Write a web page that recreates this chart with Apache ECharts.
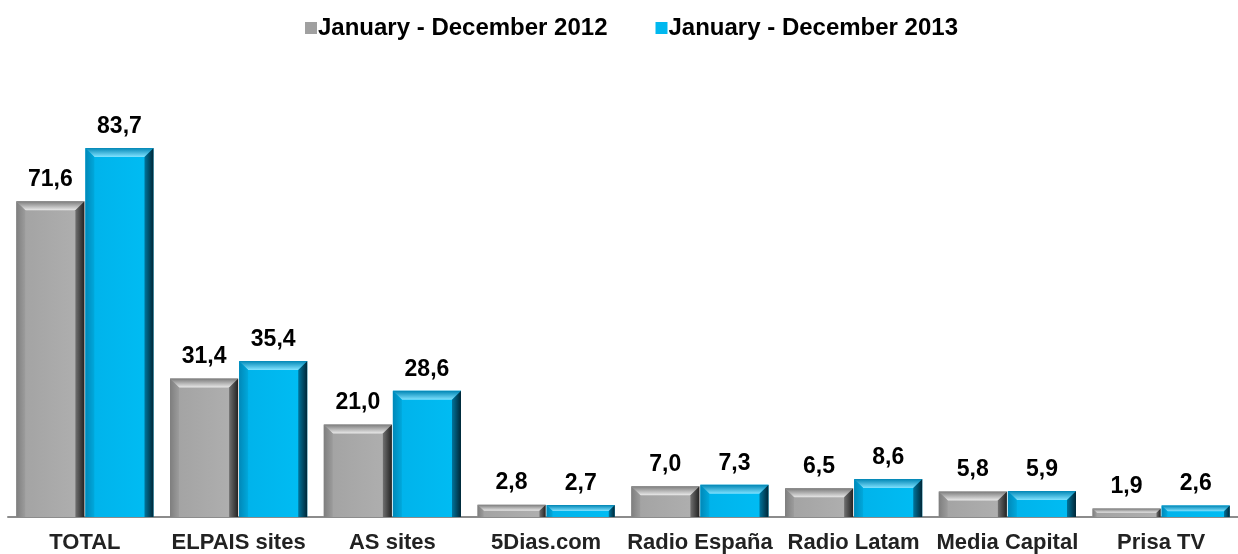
<!DOCTYPE html>
<html><head><meta charset="utf-8">
<script src="https://cdn.jsdelivr.net/npm/echarts@6/dist/echarts.min.js"></script>
<style>html,body{margin:0;padding:0;background:#fff}#c{width:1238px;height:554px}</style>
</head><body><div id="c"></div>
<script>
var categories = ['TOTAL','ELPAIS sites','AS sites','5Dias.com','Radio España','Radio Latam','Media Capital','Prisa TV'];
var seriesNames = ['January - December 2012','January - December 2013'];
var values2012 = [71.6,31.4,21.0,2.8,7.0,6.5,5.8,1.9];
var values2013 = [83.7,35.4,28.6,2.7,7.3,8.6,5.9,2.6];

var palettes = [
  {faceA:'#a2a2a2', faceB:'#b0b0b0', topA:'#7a7a7a', topB:'#e8e8e8', leftA:'#7e7e7e', leftB:'#9c9c9c', rightA:'#707070', rightB:'#222222'},
  {faceA:'#00b2ea', faceB:'#00bdf4', topA:'#0086b5', topB:'#80e2ff', leftA:'#0088b8', leftB:'#00a8dc', rightA:'#00749c', rightB:'#002636'}
];
var FONT = 'Liberation Sans, Arial, sans-serif';
function LG(x0,y0,x1,y1,a,b){return new echarts.graphic.LinearGradient(x0,y0,x1,y1,[{offset:0,color:a},{offset:1,color:b}]);}

function renderItem(params, api){
  var si = params.seriesIndex, pal = palettes[si];
  var idx = api.value(0), val = api.value(1);
  var top = api.coord([idx, val]), base = api.coord([idx, 0]);
  var band = api.size([1, 0])[0];
  var bw = band * 0.443;
  var cx = top[0];
  var x0 = si === 0 ? cx - bw - 0.5 : cx + 0.5;
  var x1 = x0 + bw, y0 = top[1], y1 = base[1];
  var h = y1 - y0;
  var b = Math.min(9, h / 2, bw / 2);
  var children = [
    {type:'rect', shape:{x:x0, y:y0, width:bw, height:h}, style:{fill:LG(0,0,1,0,pal.faceA,pal.faceB)}},
    {type:'polygon', shape:{points:[[x0,y0],[x1,y0],[x1-b,y0+b],[x0+b,y0+b]]}, style:{fill:LG(0,0,0,1,pal.topA,pal.topB)}},
    {type:'polygon', shape:{points:[[x0,y0],[x0+b,y0+b],[x0+b,y1],[x0,y1]]}, style:{fill:LG(0,0,1,0,pal.leftA,pal.leftB)}},
    {type:'polygon', shape:{points:[[x1,y0],[x1,y1],[x1-b,y1],[x1-b,y0+b]]}, style:{fill:LG(0,0,1,0,pal.rightA,pal.rightB)}},
    {type:'text', x:x0 + bw/2, y:y0 - 10, style:{text:val.toFixed(1).replace('.', ','), fill:'#000',
      font:'bold 23px ' + FONT, align:'center', verticalAlign:'bottom'}}
  ];
  return {type:'group', children:children};
}

function toData(arr){return arr.map(function(v,i){return [i, v];});}

var chart = echarts.init(document.getElementById('c'));
chart.setOption({
  animation:false,
  legend:{top:11,left:300,itemWidth:12,itemHeight:12,itemGap:48,icon:'rect',
    textStyle:{fontFamily:FONT,fontWeight:'bold',fontSize:24,color:'#000',padding:[0,0,0,-4]},
    data:seriesNames},
  grid:{left:8,right:0,top:76,bottom:37,outerBoundsMode:'none',containLabel:false},
  xAxis:{type:'category',data:categories,
    axisLine:{lineStyle:{color:'#8c8c8c',width:2}},axisTick:{show:false},
    axisLabel:{margin:15,color:'#222',fontFamily:FONT,fontWeight:'bold',fontSize:22,interval:0}},
  yAxis:{type:'value',min:0,max:100,show:false,splitLine:{show:false}},
  series:[
    {name:seriesNames[0],type:'custom',renderItem:renderItem,data:toData(values2012),encode:{x:0,y:1},
      itemStyle:{color:'#a0a0a0'},z:2},
    {name:seriesNames[1],type:'custom',renderItem:renderItem,data:toData(values2013),encode:{x:0,y:1},
      itemStyle:{color:'#00b8ef'},z:2}
  ]
});
</script></body></html>
